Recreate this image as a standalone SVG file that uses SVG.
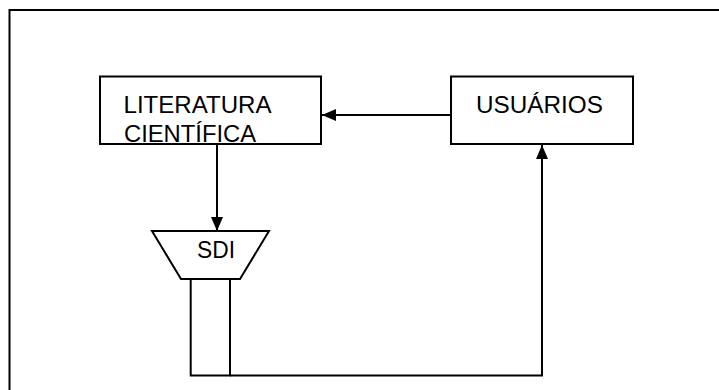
<svg xmlns="http://www.w3.org/2000/svg" width="719" height="390" viewBox="0 0 719 390">
<style>
.s{fill:#fff;stroke:#000;stroke-width:2}
.l{fill:none;stroke:#000;stroke-width:2}
.t{font-family:"Liberation Sans",Arial,sans-serif;font-size:23px;fill:#000}
</style>
<defs>
<marker id="ah" markerWidth="14" markerHeight="12" refX="14" refY="6" orient="auto" markerUnits="userSpaceOnUse" viewBox="0 0 14 12">
<path d="M0,0 L14,6 L0,12 Z" fill="#000"/>
</marker>
</defs>
<rect width="719" height="390" fill="#fff"/>
<rect x="9.5" y="10" width="712" height="400" class="l"/>
<g id="connectors">
<line x1="451" y1="115" x2="322" y2="115" class="l" marker-end="url(#ah)"/>
<line x1="217" y1="144" x2="217" y2="231" class="l" marker-end="url(#ah)"/>
<polyline points="230,375.5 542,375.5 542,145" class="l" marker-end="url(#ah)"/>
</g>
<g id="literatura">
<rect x="100" y="76.5" width="221" height="67.5" class="s"/>
<text x="123.5" y="113.3" class="t" textLength="148" lengthAdjust="spacingAndGlyphs">LITERATURA</text>
<text x="124" y="142" class="t" textLength="132" lengthAdjust="spacingAndGlyphs">CIENTÍFICA</text>
</g>
<g id="usuarios">
<rect x="451" y="76.5" width="182" height="67.5" class="s"/>
<text x="476" y="113.3" class="t" textLength="127" lengthAdjust="spacingAndGlyphs">USUÁRIOS</text>
</g>
<g id="sdi">
<polygon points="152,231 269,231 240,279 181,279" class="s"/>
<rect x="190.7" y="279" width="39.3" height="96.5" class="s"/>
<text x="197" y="257.7" class="t" textLength="38" lengthAdjust="spacingAndGlyphs">SDI</text>
</g>
</svg>
